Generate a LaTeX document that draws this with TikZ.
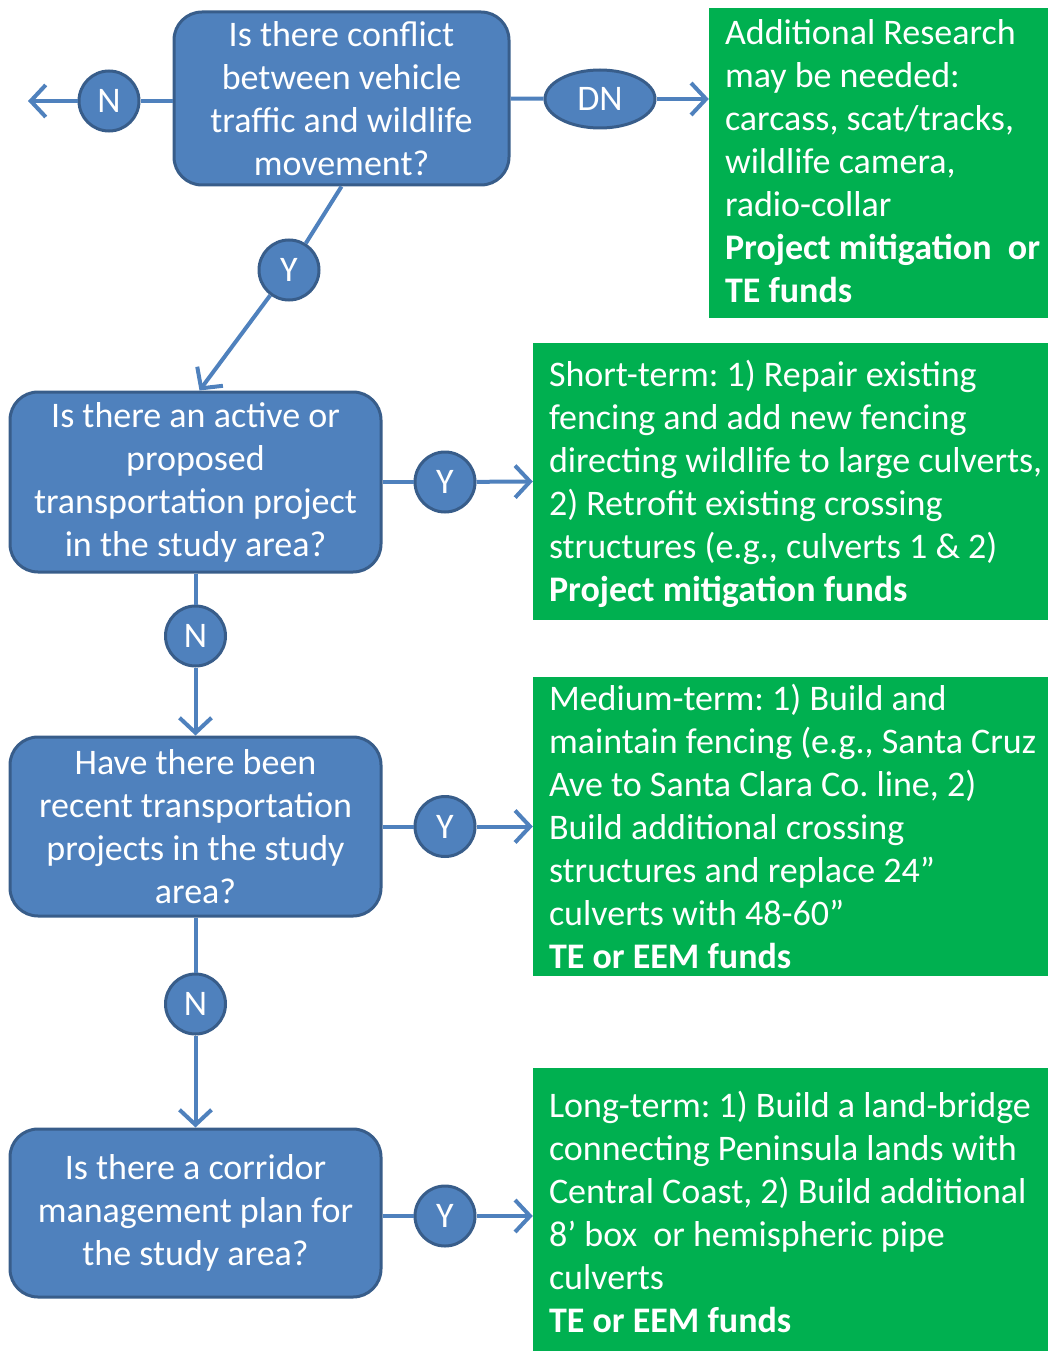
\documentclass[tikz,border=0pt]{standalone}
\usepackage{fontspec}
\setmainfont{Carlito}
\usetikzlibrary{arrows.meta,shapes.geometric}
\definecolor{bfill}{HTML}{4F81BD}
\definecolor{bdraw}{HTML}{385D8A}
\definecolor{gfill}{HTML}{00B050}
\frenchspacing
\begin{document}
\begin{tikzpicture}[x=1pt,y=-1pt,
  txt/.style={font=\fontsize{36}{43}\selectfont},
  qbox/.style={txt,draw=bdraw,fill=bfill,line width=3pt,rounded corners=28pt,text=white,align=center,inner sep=0pt},
  gbox/.style={fill=gfill,draw=none,inner sep=0pt},
  gtext/.style={txt,text=white,align=left,anchor=west,inner sep=0pt},
  lbl/.style={txt,circle,draw=bdraw,fill=bfill,line width=3pt,text=white,minimum size=60pt,inner sep=0pt},
  lblell/.style={txt,ellipse,draw=bdraw,fill=bfill,line width=3pt,text=white,minimum width=110pt,minimum height=58pt,inner sep=0pt},
  conn/.style={draw=bfill,line width=4pt},
  arr/.style={conn,-{Straight Barb[length=15pt,width=32pt]}}
]
\useasboundingbox (0,0) rectangle (1048,1351);
% question boxes
\node[qbox,minimum width=335pt,minimum height=173pt] (b1) at (341.5,98.5)
  {Is there conflict\\between vehicle\\traffic and wildlife\\movement?};
\node[qbox,minimum width=371pt,minimum height=180pt] (b2) at (195.5,482)
  {Is there an active or\\proposed\\transportation project\\in the study area?};
\node[qbox,minimum width=371pt,minimum height=179pt] (b3) at (195.5,826.5)
  {Have there been\\recent transportation\\projects in the study\\area?};
\node[qbox,minimum width=371pt,minimum height=168pt] (b4) at (195.5,1213)
  {Is there a corridor\\management plan for\\the study area?};
% green boxes
\node[gbox,minimum width=339pt,minimum height=310pt] (g1) at (878.5,163) {};
\node[gbox,minimum width=515pt,minimum height=277pt] (g2) at (790.5,481.5) {};
\node[gbox,minimum width=515pt,minimum height=299pt] (g3) at (790.5,826.5) {};
\node[gbox,minimum width=515pt,minimum height=283pt] (g4) at (790.5,1209.5) {};
\node[gtext] (g1t) at ([xshift=16pt,yshift=1.5pt]g1.west)
  {Additional Research\\may be needed:\\carcass, scat/tracks,\\wildlife camera,\\radio-collar\\\textbf{Project mitigation\ \ or}\\\textbf{TE funds}};
\node[gtext] (g2t) at ([xshift=16pt,yshift=-2pt]g2.west)
  {Short-term: 1) Repair existing\\fencing and add new fencing\\directing wildlife to large culverts,\\2) Retrofit existing crossing\\structures (e.g., culverts 1 \& 2)\\\textbf{Project mitigation funds}};
\node[gtext] (g3t) at ([xshift=16pt]g3.west)
  {Medium-term: 1) Build and\\maintain fencing (e.g., Santa Cruz\\Ave to Santa Clara Co. line, 2)\\Build additional crossing\\structures and replace 24”\\culverts with 48-60”\\\textbf{TE or EEM funds}};
\node[gtext] (g4t) at ([xshift=16pt,yshift=-2pt]g4.west)
  {Long-term: 1) Build a land-bridge\\connecting Peninsula lands with\\Central Coast, 2) Build additional\\8’ box\ \ or hemispheric pipe\\culverts\\\textbf{TE or EEM funds}};
% label nodes
\node[lbl] (n1) at (109,101) {N};
\node[lblell] (dn) at (600,99) {DN};
\node[lbl] (y1) at (289,270) {Y};
\node[lbl] (y2) at (445,482) {Y};
\node[lbl] (n2) at (195.5,636) {N};
\node[lbl] (y3) at (445,826.5) {Y};
\node[lbl] (n3) at (195.5,1004) {N};
\node[lbl] (y4) at (445,1216) {Y};
\coordinate (tipN) at (28,101);
% connectors
\draw[conn] (b1.west |- n1) -- (n1);
\draw[arr] (n1) -- (tipN);
\draw[conn] (b1.east) -- (dn);
\draw[arr] (dn) -- (dn -| g1.west);
\draw[conn] (b1.south) -- (y1);
\draw[arr] (y1) -- ([xshift=4pt]b2.north);
\draw[conn] (b2.east) -- (y2);
\draw[arr] (y2) -- (g2.west);
\draw[conn] (b2.south) -- (n2);
\draw[arr] (n2) -- (b3.north);
\draw[conn] (b3.east) -- (y3);
\draw[arr] (y3) -- (g3.west);
\draw[conn] (b3.south) -- (n3);
\draw[arr] (n3) -- (b4.north);
\draw[conn] (b4.east |- y4) -- (y4);
\draw[arr] (y4) -- (y4 -| g4.west);
\end{tikzpicture}
\end{document}
